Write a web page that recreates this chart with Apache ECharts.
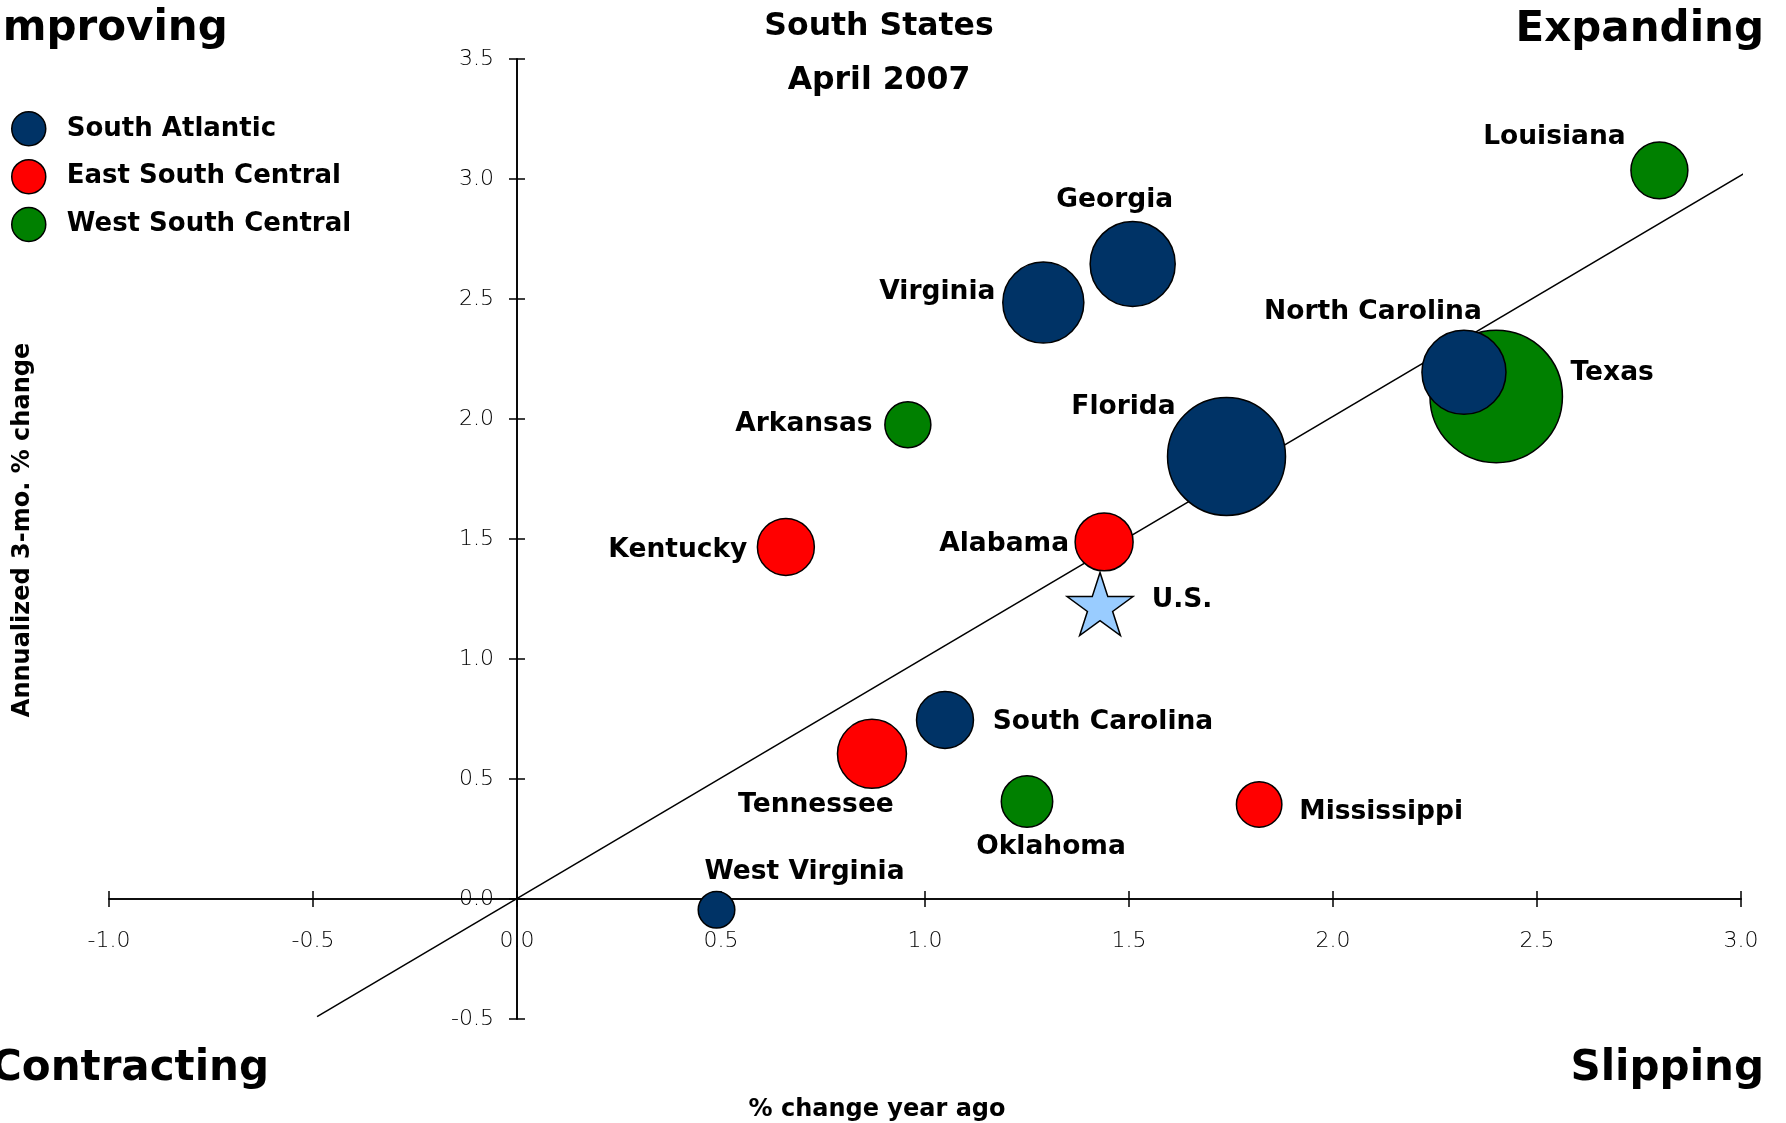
<!DOCTYPE html>
<html>
<head>
<meta charset="utf-8">
<script src="https://cdn.jsdelivr.net/npm/echarts@6/dist/echarts.min.js"></script>
<style>
html,body{margin:0;padding:0;background:#ffffff;}
#chart{width:1786px;height:1123px;}
</style>
</head>
<body>
<div id="chart"></div>
<script>
// ---------------- DATA ----------------
const regions = ['South Atlantic', 'East South Central', 'West South Central'];

// x: % change year ago, y: annualized 3-mo. % change, emp: state size (bubble area)
const southAtlanticStates = ['Georgia', 'Virginia', 'North Carolina', 'Florida', 'South Carolina', 'West Virginia'];
const southAtlanticYoY    = [1.509, 1.290, 2.321, 1.739, 1.049, 0.489];
const southAtlantic3mo    = [2.646, 2.485, 2.195, 1.844, 0.746, -0.045];
const southAtlanticEmp    = [4.24, 3.85, 4.14, 8.16, 1.90, 0.785];

const eastSouthCentralStates = ['Kentucky', 'Alabama', 'Tennessee', 'Mississippi'];
const eastSouthCentralYoY    = [0.659, 1.439, 0.870, 1.819];
const eastSouthCentral3mo    = [1.467, 1.488, 0.605, 0.394];
const eastSouthCentralEmp    = [1.90, 1.97, 2.79, 1.21];

const westSouthCentralStates = ['Louisiana', 'Texas', 'Arkansas', 'Oklahoma'];
const westSouthCentralYoY    = [2.800, 2.400, 0.958, 1.250];
const westSouthCentral3mo    = [3.036, 2.094, 1.976, 0.406];
const westSouthCentralEmp    = [1.90, 10.29, 1.24, 1.55];

const usName = 'U.S.';
const usYoY = 1.429;
const us3mo = 1.229;

// 45-degree reference line
const refLineX = [-0.49, 3.025];
const refLineY = [-0.49, 3.04];

// axis ticks
const xTickMin = -1.0, xTickMax = 3.0, xTickStep = 0.5;
const yTickMin = -0.5, yTickMax = 3.5, yTickStep = 0.5;

const chartTitle = 'South States\nApril 2007';
const xAxisTitle = '% change year ago';
const yAxisTitle = 'Annualized 3-mo. % change';
const quadrantLabels = ['Improving', 'Expanding', 'Contracting', 'Slipping'];

// ---------------- PRESENTATION ----------------
const W = 1786, H = 1123;
const FONT = "'DejaVu Sans', Verdana, sans-serif";
const regionColors = ['#003366', '#ff0000', '#008000'];
const bubbleScale = 41.3;
const GRID = { left: 109, right: 45, top: 59, bottom: 104 };
// label centre offsets relative to the mark centre (px)
const labelOffsets = {
  'Louisiana': [-105, -33],
  'Georgia': [-18, -64],
  'Virginia': [-106, -10],
  'North Carolina': [-91, -60],
  'Texas': [116, -23],
  'Florida': [-103, -49],
  'Arkansas': [-104, -1],
  'Kentucky': [-108, 3],
  'Alabama': [-100, 2],
  'U.S.': [82, -4],
  'South Carolina': [158, 2],
  'Tennessee': [-56, 51],
  'Oklahoma': [24, 46],
  'Mississippi': [122, 8],
  'West Virginia': [88, -38]
};
const STAR = 'path://M50,0 L61.23,34.55 L97.55,34.55 L68.17,55.9 L79.39,90.45 L50,69.1 L20.61,90.45 L31.83,55.9 L2.45,34.55 L38.77,34.55 Z';

const labelBase = {
  show: true, position: 'inside', formatter: '{b}', color: '#000',
  fontFamily: FONT, fontWeight: 'bold', fontSize: 26.5,
  align: 'center', verticalAlign: 'middle'
};

function regionSeries(name, states, xs, ys, emp, color, z) {
  return {
    name: name, type: 'scatter', z: z,
    xAxisIndex: 0, yAxisIndex: 0,
    data: states.map((s, i) => ({ name: s, value: [xs[i], ys[i], emp[i]], label: { offset: labelOffsets[s] } })),
    symbol: 'circle',
    symbolSize: v => bubbleScale * Math.sqrt(v[2]),
    itemStyle: { color: color, borderColor: '#000', borderWidth: 1.5, opacity: 1 },
    label: labelBase,
    emphasis: { disabled: true },
    animation: false
  };
}

const axisLineStyle = { color: '#000', width: 1.6 };
const tickStyle = { show: true, inside: false, length: 8, lineStyle: { color: '#000', width: 1.5 } };
const tickLabelStyle = { fontFamily: FONT, fontWeight: 300, fontSize: 22, color: '#000' };

function hiddenAxis(gridIndex) {
  return { type: 'value', gridIndex: gridIndex, show: false, min: 0, max: 1,
           axisLine: { show: false, onZero: false }, splitLine: { show: false } };
}
function xScaleAxis(gridIndex, pos, visible, withLabels) {
  return {
    type: 'value', gridIndex: gridIndex, position: pos, show: visible,
    min: xTickMin, max: xTickMax, interval: xTickStep,
    axisLine: { show: visible, onZero: false, lineStyle: axisLineStyle },
    axisTick: visible ? tickStyle : { show: false },
    splitLine: { show: false },
    axisLabel: Object.assign({ show: withLabels, margin: 31, hideOverlap: false, formatter: v => v.toFixed(1) }, tickLabelStyle),
    name: withLabels ? xAxisTitle : '',
    nameLocation: 'middle', nameGap: 199, nameMoveOverlap: false,
    nameTextStyle: { fontFamily: FONT, fontWeight: 'bold', fontSize: 24, color: '#000', padding: [0, 96, 0, 0] }
  };
}
function yScaleAxis(gridIndex, pos, visible, withLabels) {
  return {
    type: 'value', gridIndex: gridIndex, position: pos, show: visible,
    min: yTickMin, max: yTickMax, interval: yTickStep,
    axisLine: { show: visible, onZero: false, lineStyle: axisLineStyle },
    axisTick: visible ? tickStyle : { show: false },
    splitLine: { show: false },
    axisLabel: Object.assign({ show: withLabels, margin: 23, hideOverlap: false, formatter: v => v.toFixed(1) }, tickLabelStyle),
    name: withLabels ? yAxisTitle : '',
    nameLocation: 'middle', nameGap: 482, nameRotate: 90, nameMoveOverlap: false,
    nameTextStyle: { fontFamily: FONT, fontWeight: 'bold', fontSize: 24, color: '#000', padding: [0, 0, 0, 18] }
  };
}

const quadFont = "bold 42px 'DejaVu Sans', Verdana, sans-serif";
const quadText = (txt, x, y, align) => ({
  type: 'text', x: x, y: y, silent: true,
  style: { text: txt, fill: '#000', font: quadFont, align: align, verticalAlign: 'middle' }
});

function buildSeries() {
  return [
    {
      name: 'ref', type: 'line', z: 1, clip: false, silent: true,
      xAxisIndex: 0, yAxisIndex: 0,
      data: refLineX.map((x, i) => [x, refLineY[i]]),
      showSymbol: false, symbol: 'none',
      lineStyle: { color: '#000', width: 1.5 },
      animation: false
    },
    regionSeries(regions[0], southAtlanticStates, southAtlanticYoY, southAtlantic3mo, southAtlanticEmp, regionColors[0], 4),
    regionSeries(regions[1], eastSouthCentralStates, eastSouthCentralYoY, eastSouthCentral3mo, eastSouthCentralEmp, regionColors[1], 3),
    regionSeries(regions[2], westSouthCentralStates, westSouthCentralYoY, westSouthCentral3mo, westSouthCentralEmp, regionColors[2], 2),
    {
      name: usName, type: 'scatter', z: 5,
      xAxisIndex: 0, yAxisIndex: 0,
      data: [{ name: usName, value: [usYoY, us3mo], label: { offset: labelOffsets[usName] } }],
      symbol: STAR, symbolSize: [66, 63],
      itemStyle: { color: '#99ccff', borderColor: '#000', borderWidth: 1.5, opacity: 1 },
      label: labelBase,
      emphasis: { disabled: true },
      animation: false
    }
  ];
}

const chart = echarts.init(document.getElementById('chart'), null, { renderer: 'canvas', width: W, height: H });

// pass 1: main plotting grid, to find where the zero lines fall
const mainGrid = Object.assign({ containLabel: false, outerBoundsMode: 'none' }, GRID);
chart.setOption({
  animation: false,
  grid: [mainGrid],
  xAxis: [xScaleAxis(0, 'bottom', false, false)],
  yAxis: [yScaleAxis(0, 'left', false, false)],
  series: []
});
const zero = chart.convertToPixel({ gridIndex: 0 }, [0, 0]);
const zx = zero[0], zy = zero[1];

// pass 2: full chart; the crossing axes live in helper grids whose edges sit on the zero lines
const option = {
  backgroundColor: '#ffffff',
  animation: false,
  title: {
    text: chartTitle, left: 879, top: 0, textAlign: 'center', padding: 0,
    textStyle: { fontFamily: FONT, fontWeight: 'bold', fontSize: 31.5, lineHeight: 54, color: '#000' }
  },
  legend: {
    data: regions, orient: 'vertical', left: 6, top: 106,
    itemWidth: 34, itemHeight: 34, itemGap: 12.4, icon: 'circle',
    itemStyle: { borderColor: '#000', borderWidth: 1.5 },
    textStyle: { fontFamily: FONT, fontWeight: 'bold', fontSize: 26, color: '#000', padding: [0, 0, 0, 16] },
    selectedMode: false
  },
  grid: [
    mainGrid,
    { left: GRID.left, right: GRID.right, top: GRID.top, bottom: H - zy, containLabel: false, outerBoundsMode: 'none' },
    { left: GRID.left, right: GRID.right, top: zy, bottom: GRID.bottom, containLabel: false, outerBoundsMode: 'none' },
    { left: zx, right: GRID.right, top: GRID.top, bottom: GRID.bottom, containLabel: false, outerBoundsMode: 'none' },
    { left: GRID.left, right: W - zx, top: GRID.top, bottom: GRID.bottom, containLabel: false, outerBoundsMode: 'none' }
  ],
  xAxis: [
    xScaleAxis(0, 'bottom', false, false),
    xScaleAxis(1, 'bottom', true, true),
    xScaleAxis(2, 'top', true, false),
    hiddenAxis(3),
    hiddenAxis(4)
  ],
  yAxis: [
    yScaleAxis(0, 'left', false, false),
    hiddenAxis(1),
    hiddenAxis(2),
    yScaleAxis(3, 'left', true, true),
    yScaleAxis(4, 'right', true, false)
  ],
  graphic: [
    quadText(quadrantLabels[0], -13, 29, 'left'),
    quadText(quadrantLabels[1], 1764, 30, 'right'),
    quadText(quadrantLabels[2], -9, 1069, 'left'),
    quadText(quadrantLabels[3], 1764, 1069, 'right')
  ],
  series: buildSeries()
};
chart.setOption(option, true);
</script>
</body>
</html>
